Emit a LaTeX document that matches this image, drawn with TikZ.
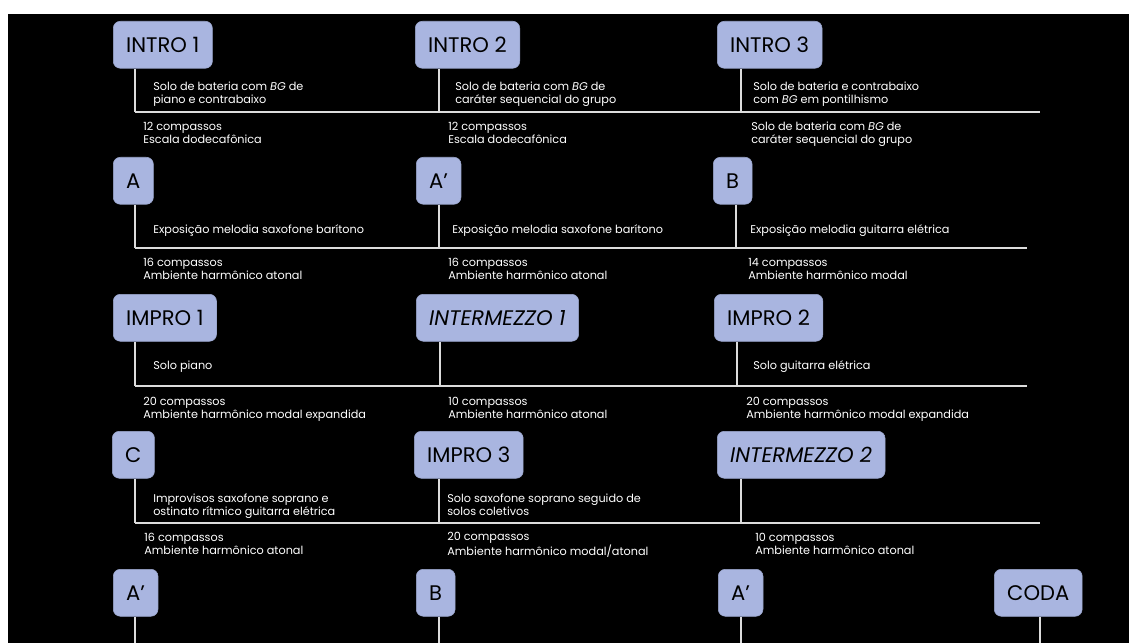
\documentclass[tikz,border=0pt]{standalone}
\usepackage{fontspec}
\setmainfont{Poppins}
\definecolor{boxblue}{RGB}{169,181,224}
\definecolor{rulegray}{RGB}{220,220,220}

\begin{document}
\begin{tikzpicture}[x=0.025cm, y=-0.025cm,
  part/.style={draw=boxblue!92!black, line width=0.4pt, fill=boxblue, rounded corners=5pt,
    anchor=north west, minimum height=33.4pt, inner xsep=9.2pt, inner ysep=0pt,
    text=black, font=\fontsize{15}{18}\selectfont},
  note/.style={anchor=west, inner sep=0pt, align=left, text=white,
    font=\fontsize{8}{9.3}\selectfont,
    execute at begin node=\strut, execute at end node=\strut},
  timeline/.style={draw=rulegray, line width=1.4pt}]

\useasboundingbox (0,0) rectangle (1129,643);
\fill[white] (0,0) rectangle (1129,643);
\fill[black] (8,14) rectangle (1129,643);

% row 1
\node[part] (intro1) at (113,21) {INTRO 1};
\node[part] (intro2) at (415,21) {INTRO 2};
\node[part] (intro3) at (717,21) {INTRO 3};

\coordinate (r1a) at (135,112);
\coordinate (r1b) at (439,112);
\coordinate (r1c) at (741,112);
\coordinate (r1e) at (1040,112);
\draw[timeline] (r1a) -- (r1e);
\draw[timeline] (intro1.south -| r1a) -- (r1a);
\draw[timeline] (intro2.south -| r1b) -- (r1b);
\draw[timeline] (intro3.south -| r1c) -- (r1c);

\node[note] (s1a) at (153,95) {Solo de bateria com \textit{BG} de\\piano e contrabaixo};
\node[note] (s1b) at (455,95) {Solo de bateria com \textit{BG} de\\caráter sequencial do grupo};
\node[note] (s1c) at (753,95) {Solo de bateria e contrabaixo\\com \textit{BG} em pontilhismo};
\node[note] (m1a) at (143,134.5) {12 compassos\\Escala dodecafônica};
\node[note] (m1b) at (448,134.5) {12 compassos\\Escala dodecafônica};
\node[note] (m1c) at (751,134.5) {Solo de bateria com \textit{BG} de\\caráter sequencial do grupo};

% row 2
\node[part] (a) at (113,157) {A};
\node[part] (a2) at (416,157) {A’};
\node[part] (b) at (713,157) {B};

\coordinate (r2a) at (135,248);
\coordinate (r2b) at (439,248);
\coordinate (r2c) at (736,248);
\coordinate (r2e) at (1027,248);
\draw[timeline] (r2a) -- (r2e);
\draw[timeline] (a.south -| r2a) -- (r2a);
\draw[timeline] (a2.south -| r2b) -- (r2b);
\draw[timeline] (b.south -| r2c) -- (r2c);

\node[note] (s2a) at (153,231) {Exposição melodia saxofone barítono};
\node[note] (s2b) at (452,231) {Exposição melodia saxofone barítono};
\node[note] (s2c) at (750,231) {Exposição melodia guitarra elétrica};
\node[note] (m2a) at (143,271) {16 compassos\\Ambiente harmônico atonal};
\node[note] (m2b) at (448,271) {16 compassos\\Ambiente harmônico atonal};
\node[note] (m2c) at (748,271) {14 compassos\\Ambiente harmônico modal};

% row 3
\node[part] (impro1) at (113,294) {IMPRO 1};
\node[part] (inter1) at (416,294) {\textit{INTERMEZZO 1}};
\node[part] (impro2) at (714,294) {IMPRO 2};

\coordinate (r3a) at (135,386);
\coordinate (r3b) at (440,386);
\coordinate (r3c) at (737,386);
\coordinate (r3e) at (1027,386);
\draw[timeline] (r3a) -- (r3e);
\draw[timeline] (impro1.south -| r3a) -- (r3a);
\draw[timeline] (inter1.south -| r3b) -- (r3b);
\draw[timeline] (impro2.south -| r3c) -- (r3c);

\node[note] (s3a) at (153,367) {Solo piano};
\node[note] (s3c) at (753,367) {Solo guitarra elétrica};
\node[note] (m3a) at (143,409.5) {20 compassos\\Ambiente harmônico modal expandida};
\node[note] (m3b) at (448,409.5) {10 compassos\\Ambiente harmônico atonal};
\node[note] (m3c) at (746,409.5) {20 compassos\\Ambiente harmônico modal expandida};

% row 4
\node[part] (c) at (112,431) {C};
\node[part] (impro3) at (414,431) {IMPRO 3};
\node[part] (inter2) at (717,431) {\textit{INTERMEZZO 2}};

\coordinate (r4a) at (135,523);
\coordinate (r4b) at (439,523);
\coordinate (r4c) at (741,523);
\coordinate (r4e) at (1040,523);
\draw[timeline] (r4a) -- (r4e);
\draw[timeline] (c.south -| r4a) -- (r4a);
\draw[timeline] (impro3.south -| r4b) -- (r4b);
\draw[timeline] (inter2.south -| r4c) -- (r4c);

\node[note] (s4a) at (153,507) {Improvisos saxofone soprano e\\ostinato rítmico guitarra elétrica};
\node[note] (s4b) at (447,507) {Solo saxofone soprano seguido de\\solos coletivos};
\node[note] (m4a) at (144,546) {16 compassos\\Ambiente harmônico atonal};
\node[note] (m4b) at (447,546) {20 compassos\\Ambiente harmônico modal/atonal};
\node[note] (m4c) at (755,546) {10 compassos\\Ambiente harmônico atonal};

% row 5
\node[part] (a3) at (113,569) {A’};
\node[part] (b2) at (416,569) {B};
\node[part] (a4) at (718,569) {A’};
\node[part] (coda) at (994,569) {CODA};

\coordinate (r5a) at (135,643);
\coordinate (r5b) at (439,643);
\coordinate (r5c) at (741,643);
\coordinate (r5d) at (1040,643);
\draw[timeline] (a3.south -| r5a) -- (r5a);
\draw[timeline] (b2.south -| r5b) -- (r5b);
\draw[timeline] (a4.south -| r5c) -- (r5c);
\draw[timeline] (coda.south -| r5d) -- (r5d);

\end{tikzpicture}
\end{document}
